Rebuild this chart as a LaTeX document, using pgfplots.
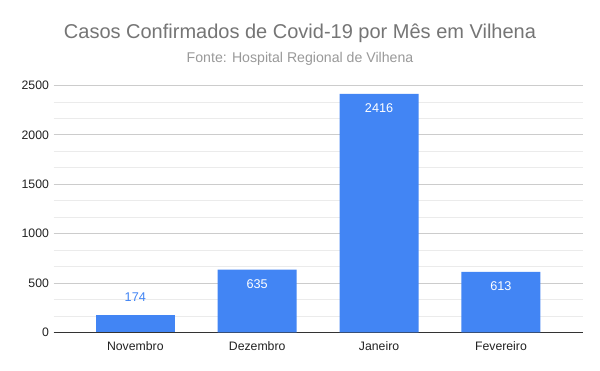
\documentclass[border=0pt]{standalone}
\usepackage{pgfplots}
\pgfplotsset{compat=1.18}
\usepackage{fontspec}
\setmainfont{Liberation Sans}
\definecolor{barblue}{HTML}{4285F4}
\definecolor{titlegray}{HTML}{757575}
\definecolor{subgray}{HTML}{999999}
\definecolor{majgrid}{HTML}{CCCCCC}
\definecolor{mingrid}{HTML}{EBEBEB}
\definecolor{ticktext}{HTML}{222222}
\begin{document}
\begin{tikzpicture}[x=0.75pt,y=0.75pt]
\path[use as bounding box, fill=white] (0,0) rectangle (600,371);
\node[text=titlegray, font=\fontsize{15}{18}\selectfont] at (300,338) {Casos Confirmados de Covid-19 por Mês em Vilhena};
\node[text=subgray, font=\fontsize{10.6}{13}\selectfont] at (300,312) {Fonte: Hospital Regional de Vilhena};
\begin{axis}[
  at={(44,39)}, anchor=south west, scale only axis,
  width=396.75pt, height=185.25pt,
  xmin=-0.67, xmax=3.67, ymin=0, ymax=2500,
  xtick={0,1,2,3}, xticklabels={Novembro,Dezembro,Janeiro,Fevereiro},
  ytick={0,500,1000,1500,2000,2500}, minor y tick num=2,
  ymajorgrids, yminorgrids,
  major grid style={majgrid, line width=0.6pt},
  minor grid style={mingrid, line width=0.6pt},
  axis x line*=bottom, axis y line*=left,
  y axis line style={draw=none},
  x axis line style={draw=black!80, line width=0.8pt, -},
  tick style={draw=none}, major tick length=0pt, minor tick length=0pt,
  /pgf/number format/assume math mode=true,
  /pgf/number format/1000 sep={},
  ticklabel style={text=ticktext, font=\fontsize{9.2}{11}\selectfont},
  xticklabel style={yshift=-3pt},
  ybar, bar width=59.25pt,
  clip=false,
]
\addplot[fill=barblue, draw=none, bar shift=0pt,
  nodes near coords,
  every node near coord/.append style={text=barblue, anchor=center, yshift=13.5pt, font=\fontsize{9.5}{11}\selectfont}]
  coordinates {(0,174)};
\addplot[fill=barblue, draw=none, bar shift=0pt,
  nodes near coords,
  every node near coord/.append style={text=white, anchor=center, yshift=-10.5pt, font=\fontsize{9.5}{11}\selectfont}]
  coordinates {(1,635) (2,2416) (3,613)};
\end{axis}
\end{tikzpicture}
\end{document}
